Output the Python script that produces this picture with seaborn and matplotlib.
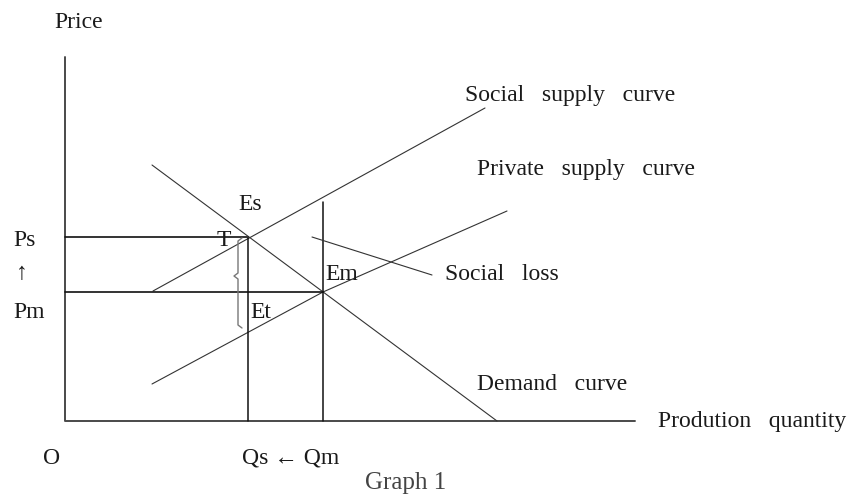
import matplotlib
matplotlib.use("Agg")
import matplotlib.pyplot as plt
import seaborn as sns
import pandas as pd

sns.set_theme(style="white")
plt.rcParams['font.family'] = ['Liberation Serif', 'DejaVu Serif']

# Diagram data (quantity q, price p), origin at O
axis_q = [0, 0, 570]
axis_p = [364, 0, 0]

social_supply_q = [88, 420]
social_supply_p = [130, 313]
private_supply_q = [87, 258, 442]
private_supply_p = [37, 129, 210]
demand_q = [87, 432]
demand_p = [256, 0]

ps_line_q = [0, 182]
ps_line_p = [184, 184]
pm_line_q = [0, 258]
pm_line_p = [129, 129]
qs_line_q = [183, 183]
qs_line_p = [184, 0]
qm_line_q = [258, 258]
qm_line_p = [219, 0]

loss_pointer_q = [247, 367]
loss_pointer_p = [184, 146]

brace_q = [177, 173, 173, 169, 173, 173, 177]
brace_p = [183, 180, 148, 145, 142, 96, 93]

labels = ["Price", "Social   supply   curve", "Private   supply   curve", "Es", "T",
          "Ps", "\u2191", "Pm", "Em", "Et", "Social   loss", "Demand   curve",
          "Prodution   quantity", "O", "Qs \u2190 Qm"]
label_q = [14, 400, 412, 173, 159, -52, -43, -52, 260, 185, 380, 412, 593, -13, 177]
label_p = [399, 326, 252, 217, 181, 181, 148, 108, 146, 108, 146, 36, 0, -37, -37]
label_ha = ["center", "left", "left", "left", "center", "left", "center", "left",
            "left", "left", "left", "left", "left", "center", "left"]

title_text = "Graph 1"
title_q, title_p = 341, -62

fig = plt.figure(figsize=(8.54, 5.0), dpi=100)
ax = fig.add_axes([0, 0, 1, 1])


def seg(q, p, color, lw):
    df = pd.DataFrame({"q": q, "p": p, "i": range(len(q))})
    sns.lineplot(data=df, x="q", y="p", sort=False, estimator=None, color=color,
                 linewidth=lw, ax=ax, legend=False)


seg(axis_q, axis_p, "#4a4a4a", 1.4)
seg(social_supply_q, social_supply_p, "#333333", 0.8)
seg(private_supply_q, private_supply_p, "#333333", 0.8)
seg(demand_q, demand_p, "#333333", 0.8)
seg(ps_line_q, ps_line_p, "#111111", 1.2)
seg(pm_line_q, pm_line_p, "#111111", 1.2)
seg(qs_line_q, qs_line_p, "#111111", 1.1)
seg(qm_line_q, qm_line_p, "#111111", 1.1)
seg(loss_pointer_q, loss_pointer_p, "#333333", 0.8)
seg(brace_q, brace_p, "#777777", 1.0)

for t, q, p, ha in zip(labels, label_q, label_p, label_ha):
    ax.text(q, p, t, ha=ha, va="center", fontsize=17, color="#1a1a1a")
ax.text(title_q, title_p, title_text, ha="center", va="center", fontsize=18, color="#444444")

ax.set_xlim(-65, 789)
ax.set_ylim(-79, 421)
ax.axis("off")
fig.savefig("out.png", dpi=100, facecolor="white")
